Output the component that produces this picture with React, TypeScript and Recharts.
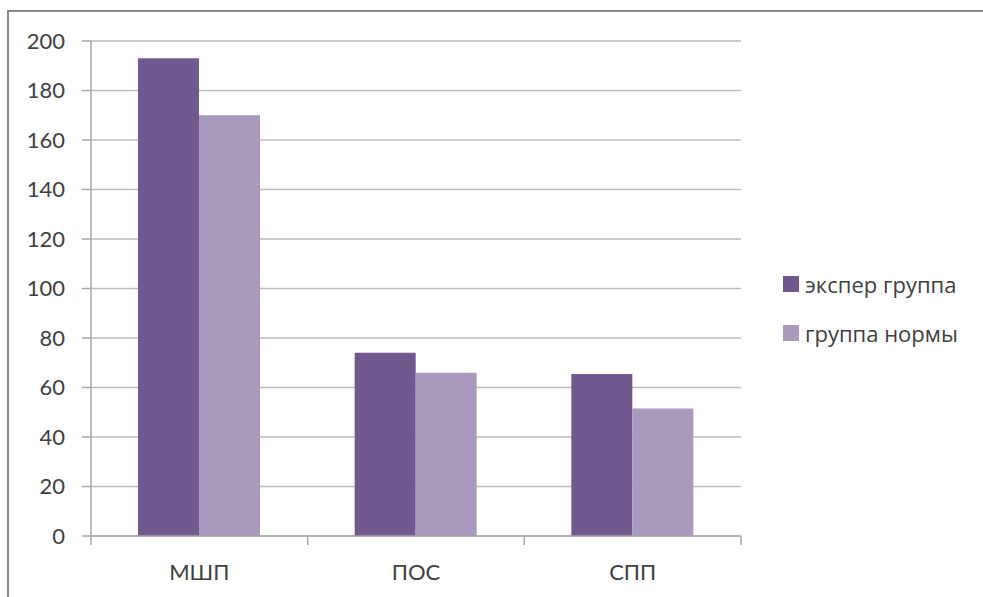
import { BarChart, Bar, XAxis, YAxis, CartesianGrid, Legend } from "recharts"

const categories = ["МШП", "ПОС", "СПП"]
const seriesNames = ["экспер группа", "группа нормы"]
const experValues = [193, 74, 65.5]
const normValues = [170, 66, 51.5]
const yTicks = [0, 20, 40, 60, 80, 100, 120, 140, 160, 180, 200]

const COLORS = ["#71588f", "#a899bd"]
const FONT = "Lato, 'Open Sans', sans-serif"
const LEGEND_FONT = "'Open Sans', Lato, sans-serif"
const TEXT = "#404040"
const AXIS = "#a6a6a6"

const W = 983
const H = 597
const PLOT_LEFT = 91
const PLOT_RIGHT = 741
const PLOT_TOP = 41
const PLOT_BOTTOM = 536
const BAND = (PLOT_RIGHT - PLOT_LEFT) / categories.length

const data = categories.map((name, i) => ({
  name,
  exper: experValues[i],
  norm: normValues[i],
}))

// category label in the middle, tick marks on the band edges
function CategoryTick(props: any) {
  const { x, payload, index } = props
  const left = x - BAND / 2
  return (
    <g>
      <line x1={left} x2={left} y1={PLOT_BOTTOM} y2={PLOT_BOTTOM + 9} stroke={AXIS} strokeWidth={1.5} />
      {index === categories.length - 1 && (
        <line x1={x + BAND / 2} x2={x + BAND / 2} y1={PLOT_BOTTOM} y2={PLOT_BOTTOM + 9} stroke={AXIS} strokeWidth={1.5} />
      )}
      <text x={x} y={PLOT_BOTTOM + 35} textAnchor="middle" dominantBaseline="central" fill={TEXT} fontSize={22} fontFamily={FONT}>
        {payload.value}
      </text>
    </g>
  )
}

function LegendBox() {
  return (
    <div style={{ fontFamily: LEGEND_FONT, fontSize: 22, color: TEXT }}>
      {seriesNames.map((name, i) => (
        <div key={name} style={{ display: "flex", alignItems: "center", height: 49 }}>
          <span style={{ width: 16, height: 16, background: COLORS[i], marginRight: 6, display: "inline-block" }} />
          <span>{name}</span>
        </div>
      ))}
    </div>
  )
}

export default function App() {
  return (
    <div style={{ position: "absolute", left: 0, top: 0, width: W, height: H, background: "#fff", overflow: "hidden" }}>
      <div
        style={{
          position: "absolute",
          left: 7,
          top: 10,
          width: W,
          height: H,
          borderTop: "2px solid #8a8a8a",
          borderLeft: "2px solid #8a8a8a",
        }}
      />
      <BarChart
        width={W}
        height={H}
        data={data}
        barGap={0}
        margin={{ top: PLOT_TOP, right: W - PLOT_RIGHT, bottom: H - PLOT_BOTTOM - 40, left: PLOT_LEFT - 60 }}
        style={{ position: "absolute", left: 0, top: 0 }}
      >
        <CartesianGrid vertical={false} stroke="#bdbdbd" strokeWidth={1.5} />
        <XAxis
          dataKey="name"
          height={40}
          axisLine={{ stroke: AXIS, strokeWidth: 1.5 }}
          tickLine={false}
          tick={<CategoryTick />}
          interval={0}
        />
        <YAxis
          width={60}
          domain={[0, 200]}
          ticks={yTicks}
          axisLine={{ stroke: AXIS, strokeWidth: 1.5 }}
          tickLine={{ stroke: AXIS, strokeWidth: 1.5 }}
          tickSize={9}
          tickMargin={17}
          tick={{ fill: TEXT, fontSize: 22, fontFamily: FONT }}
        />
        <Legend
          layout="vertical"
          align="center"
          verticalAlign="middle"
          content={<LegendBox />}
          wrapperStyle={{ left: 783, top: 259, width: 200, height: 98 }}
        />
        <Bar dataKey="exper" name={seriesNames[0]} fill={COLORS[0]} barSize={61} isAnimationActive={false} />
        <Bar dataKey="norm" name={seriesNames[1]} fill={COLORS[1]} barSize={61} isAnimationActive={false} />
      </BarChart>
    </div>
  )
}
